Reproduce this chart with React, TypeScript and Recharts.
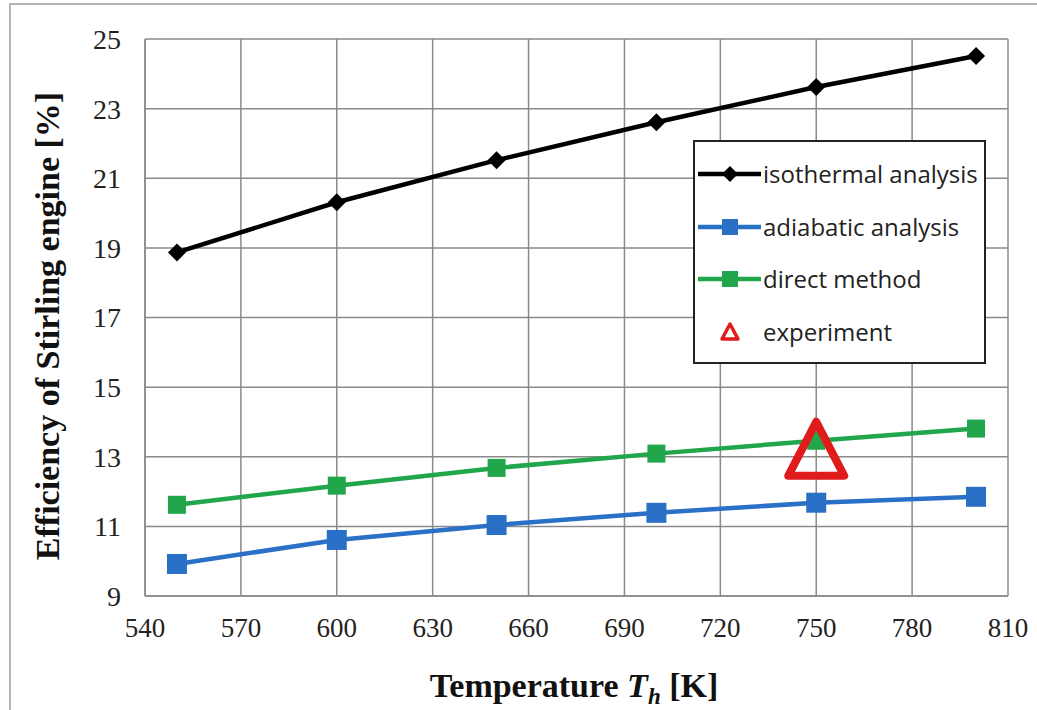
import {
  ComposedChart,
  Line,
  Scatter,
  XAxis,
  YAxis,
  CartesianGrid,
} from "recharts";

const SERIF = "'Liberation Serif', 'Times New Roman', serif";
const SANS = "'Open Sans', 'DejaVu Sans', sans-serif";

// temperature T_h [K]
const temps = [550, 600, 650, 700, 750, 800];
const isothermal = [18.87, 20.31, 21.52, 22.61, 23.62, 24.51];
const adiabatic = [9.92, 10.61, 11.04, 11.39, 11.68, 11.85];
const direct = [11.62, 12.17, 12.68, 13.09, 13.46, 13.81];
const experimentT = [750];
const experimentEff = [13.2];

const xTicks = [540, 570, 600, 630, 660, 690, 720, 750, 780, 810];
const yTicks = [9, 11, 13, 15, 17, 19, 21, 23, 25];

const BLACK = "#000000";
const BLUE = "#2a70c6";
const GREEN = "#21a64b";
const RED = "#e01b1b";

const rows = temps.map((t, i) => ({
  t,
  iso: isothermal[i],
  adi: adiabatic[i],
  dir: direct[i],
}));

const expRows = experimentT.map((t, i) => ({ t, exp: experimentEff[i] }));

function Diamond(props: any) {
  const { cx, cy } = props;
  if (cx == null || cy == null) return null;
  const r = 9;
  return (
    <path
      d={`M${cx},${cy - r} L${cx + r},${cy} L${cx},${cy + r} L${cx - r},${cy} Z`}
      fill={BLACK}
    />
  );
}

function makeSquare(color: string, size: number) {
  return (props: any) => {
    const { cx, cy } = props;
    if (cx == null || cy == null) return null;
    return (
      <rect
        x={cx - size / 2}
        y={cy - size / 2}
        width={size}
        height={size}
        fill={color}
      />
    );
  };
}

function Triangle(props: any) {
  const { cx, cy } = props;
  if (cx == null || cy == null) return null;
  const h = 52;
  const w = 56;
  return (
    <path
      d={`M${cx},${cy - h / 2 - 2} L${cx + w / 2},${cy + h / 2} L${cx - w / 2},${cy + h / 2} Z`}
      fill="none"
      stroke={RED}
      strokeWidth={8}
      strokeLinejoin="round"
    />
  );
}

const legendItems = [
  { name: "isothermal analysis", color: BLACK, marker: "diamond" },
  { name: "adiabatic analysis", color: BLUE, marker: "square" },
  { name: "direct method", color: GREEN, marker: "square" },
  { name: "experiment", color: RED, marker: "triangle" },
];

function LegendBox() {
  return (
    <div
      style={{
        position: "absolute",
        left: 693,
        top: 140,
        width: 293,
        height: 224,
        border: "2px solid #222",
        background: "#fff",
        boxSizing: "border-box",
        paddingTop: 6,
      }}
    >
      {legendItems.map((it) => (
        <div
          key={it.name}
          style={{ display: "flex", alignItems: "center", height: 52.5 }}
        >
          <svg width={66} height={24} style={{ marginLeft: 2, flex: "none" }}>
            {it.marker !== "triangle" && (
              <line x1={1} y1={12} x2={64} y2={12} stroke={it.color} strokeWidth={4.5} />
            )}
            {it.marker === "diamond" && (
              <path d="M33,4 L41,12 L33,20 L25,12 Z" fill={it.color} />
            )}
            {it.marker === "square" && (
              <rect x={25} y={4} width={16} height={16} fill={it.color} />
            )}
            {it.marker === "triangle" && (
              <path
                d="M33,4 L41,19 L25,19 Z"
                fill="none"
                stroke={it.color}
                strokeWidth={3.5}
                strokeLinejoin="round"
              />
            )}
          </svg>
          <span
            style={{
              fontFamily: SANS,
              fontSize: 24,
              color: "#222",
              whiteSpace: "nowrap",
              lineHeight: 1,
            }}
          >
            {it.name}
          </span>
        </div>
      ))}
    </div>
  );
}

export default function App() {
  return (
    <div
      style={{
        position: "absolute",
        left: 0,
        top: 0,
        width: 1037,
        height: 710,
        background: "#fff",
        overflow: "hidden",
      }}
    >
      <div
        style={{
          position: "absolute",
          left: 9,
          top: 3,
          width: 1100,
          height: 800,
          border: "2px solid #b5b5b5",
        }}
      />
      <ComposedChart
        width={1037}
        height={710}
        data={rows}
        margin={{ top: 39, right: 29, bottom: 74, left: 85 }}
      >
        <CartesianGrid stroke="#8a8a8a" strokeWidth={1.5} />
        <XAxis
          dataKey="t"
          type="number"
          domain={[540, 810]}
          ticks={xTicks}
          height={40}
          axisLine={{ stroke: "#8a8a8a", strokeWidth: 1.5 }}
          tickLine={false}
          tickSize={0}
          tickMargin={22}
          tick={{ fill: "#222", fontSize: 27, fontFamily: SERIF }}
          label={{
            value: "Temperature Th [K]",
            content: () => (
              <text
                x={574}
                y={697}
                textAnchor="middle"
                fontFamily={SERIF}
                fontSize={34}
                fontWeight="bold"
                fill="#111"
              >
                Temperature{" "}
                <tspan fontStyle="italic">T</tspan>
                <tspan fontStyle="italic" fontSize={23} dy={7}>
                  h
                </tspan>
                <tspan dy={-7}> [K]</tspan>
              </text>
            ),
          }}
        />
        <YAxis
          type="number"
          domain={[9, 25]}
          ticks={yTicks}
          width={60}
          axisLine={{ stroke: "#8a8a8a", strokeWidth: 1.5 }}
          tickLine={false}
          tickSize={0}
          tickMargin={24}
          tick={{ fill: "#222", fontSize: 28, fontFamily: SERIF }}
          label={{
            value: "Efficiency of Stirling engine [%]",
            content: () => (
              <text
                x={47}
                y={326}
                transform="rotate(-90 47 326)"
                textAnchor="middle"
                dominantBaseline="central"
                fontFamily={SERIF}
                fontSize={34}
                fontWeight="bold"
                fill="#111"
              >
                Efficiency of Stirling engine [%]
              </text>
            ),
          }}
        />
        <Line
          dataKey="iso"
          name="isothermal analysis"
          stroke={BLACK}
          strokeWidth={4.5}
          dot={<Diamond />}
          activeDot={false}
          isAnimationActive={false}
        />
        <Line
          dataKey="adi"
          name="adiabatic analysis"
          stroke={BLUE}
          strokeWidth={4.5}
          dot={makeSquare(BLUE, 20)}
          activeDot={false}
          isAnimationActive={false}
        />
        <Line
          dataKey="dir"
          name="direct method"
          stroke={GREEN}
          strokeWidth={4.5}
          dot={makeSquare(GREEN, 18)}
          activeDot={false}
          isAnimationActive={false}
        />
        <Scatter
          data={expRows}
          dataKey="exp"
          name="experiment"
          shape={<Triangle />}
          isAnimationActive={false}
        />
      </ComposedChart>
      <LegendBox />
    </div>
  );
}
